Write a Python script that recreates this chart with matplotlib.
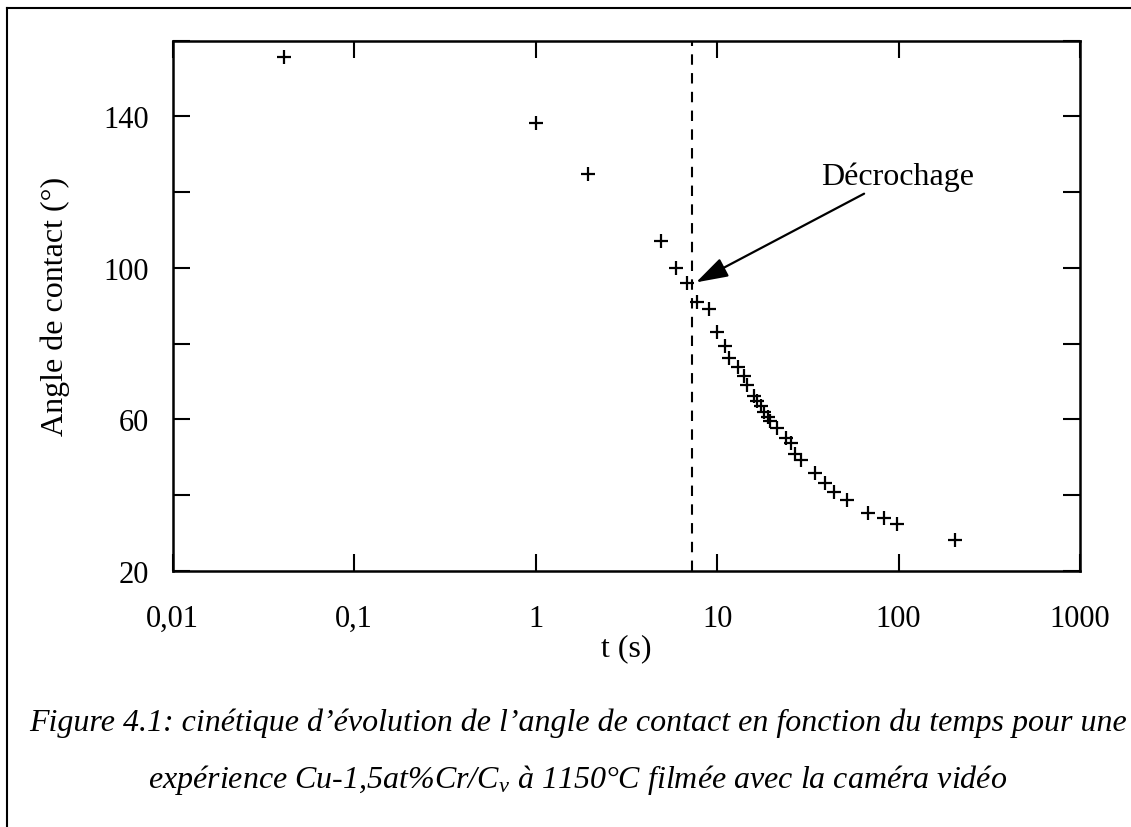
"""Contact angle vs time (log scale) for a Cu-1,5at%Cr/Cv experiment"""
import matplotlib
matplotlib.use('Agg')
import matplotlib.pyplot as plt
from matplotlib.lines import Line2D
from matplotlib.ticker import FixedLocator, FixedFormatter, MultipleLocator, NullLocator

plt.rcParams['font.family'] = ['Liberation Serif', 'DejaVu Serif']
plt.rcParams['mathtext.fontset'] = 'custom'
plt.rcParams['mathtext.rm'] = 'Liberation Serif'
plt.rcParams['mathtext.it'] = 'Liberation Serif:italic'

# measured points (time in s, contact angle in degrees)
t_s = [0.041, 1.0, 1.95, 4.93, 5.94, 6.83, 7.75, 8.98, 9.94, 11.0, 11.7, 13.0,
       14.1, 14.7, 16.0, 16.5, 17.4, 18.2, 19.2, 19.5, 21.5, 23.9, 25.5, 26.9,
       29.0, 34.6, 39.4, 44.2, 52.3, 67.9, 83.2, 97.7, 204.6]
angle_deg = [155.7, 138.3, 124.8, 107.1, 100.0, 96.0, 90.9, 89.2, 83.2, 79.5,
             76.2, 73.9, 71.4, 69.1, 66.3, 65.0, 63.6, 62.1, 60.7, 59.7, 57.8,
             55.0, 53.7, 50.9, 49.4, 45.9, 43.2, 40.8, 38.8, 35.2, 33.9, 32.4,
             28.3]
t_decrochage = 7.28

x_ticks = [0.01, 0.1, 1, 10, 100, 1000]
x_ticklabels = ['0,01', '0,1', '1', '10', '100', '1000']
y_ticklabels_at = [20, 60, 100, 140]

fig = plt.figure(figsize=(11.31, 8.28), dpi=100)
ax = fig.add_axes([0.1527, 0.3092, 0.8022, 0.6404])

ax.plot(t_s, angle_deg, linestyle='none', marker='+', markersize=10,
        markeredgewidth=1.6, color='black')
ax.axvline(t_decrochage, color='black', linestyle=(0, (5, 4)), lw=1.5)

ax.annotate('Décrochage', xy=(7.66, 96.2), xytext=(37.3, 122.2),
            fontsize=23, va='baseline', ha='left',
            arrowprops=dict(arrowstyle='-|>,head_length=0.7,head_width=0.22',
                            color='black', lw=1.6,
                            mutation_scale=28, shrinkA=0, shrinkB=0))

# Format axis
ax.set_xscale('log')
ax.set_xlim(0.01, 1000)
ax.set_ylim(20, 160)
ax.xaxis.set_major_locator(FixedLocator(x_ticks))
ax.xaxis.set_major_formatter(FixedFormatter(x_ticklabels))
ax.xaxis.set_minor_locator(NullLocator())
ax.yaxis.set_major_locator(MultipleLocator(20))
ax.yaxis.set_major_formatter(lambda v, pos: f'{v:.0f}' if round(v) in y_ticklabels_at else '')
ax.tick_params(axis='both', which='major', direction='in', length=12, width=1.5,
               top=True, right=True, labelsize=22)
ax.tick_params(axis='x', pad=24)
ax.tick_params(axis='y', pad=17)
for sp in ax.spines.values():
    sp.set_linewidth(1.8)

ax.set_xlabel('t (s)', fontsize=23, labelpad=0)
ax.set_ylabel('Angle de contact (°)', fontsize=23, labelpad=24)

# Caption below the figure
fig.text(0.511, 0.127, 'Figure 4.1: cinétique d’évolution de l’angle de contact en fonction du temps pour une',
         fontsize=23, style='italic', ha='center', va='center')
fig.text(0.511, 0.058, 'expérience Cu-1,5at%Cr/C$_v$ à 1150°C filmée avec la caméra vidéo',
         fontsize=23, style='italic', ha='center', va='center')

# Page frame (left and top edges)
fig.add_artist(Line2D([7 / 1131, 7 / 1131], [0, 1 - 9 / 828], color='black', lw=1.5))
fig.add_artist(Line2D([7 / 1131, 1], [1 - 9 / 828, 1 - 9 / 828], color='black', lw=1.5))

fig.savefig('out.png', dpi=100)
